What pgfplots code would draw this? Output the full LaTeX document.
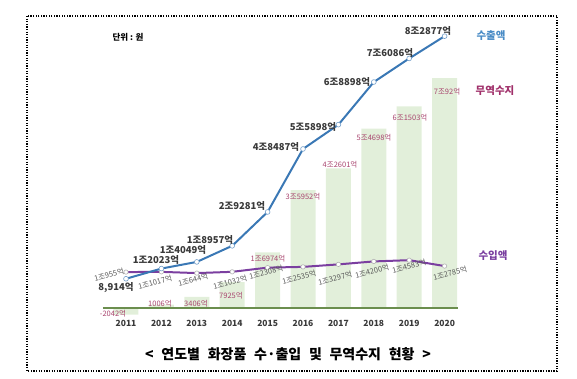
\documentclass[border=0pt]{standalone}
\usepackage{pgfplots}
\pgfplotsset{compat=1.18}
\usepackage{fontspec}
\setmainfont{Noto Sans CJK KR}
\definecolor{barg}{HTML}{E2EFDA}
\definecolor{baseg}{HTML}{6B8E4E}
\definecolor{expc}{HTML}{3A78B5}
\definecolor{impc}{HTML}{7B3FA0}
\definecolor{balc}{HTML}{A8446E}
\definecolor{explab}{HTML}{3A3A3A}
\definecolor{implab}{HTML}{5A5A5A}
\definecolor{explegend}{HTML}{4A8CC6}
\definecolor{ballegend}{HTML}{A0306A}
\definecolor{implegend}{HTML}{7A3FA0}
\newcommand{\ef}{\fontsize{9.5}{11}\selectfont\bfseries}
\newcommand{\imf}{\fontsize{7.5}{9}\selectfont}
\newcommand{\blf}{\fontsize{7.5}{9}\selectfont}
\newcommand{\ts}{\hspace{0.55em}}
\begin{document}
\begin{tikzpicture}
\begin{axis}[width=577pt,height=379pt,scale only axis,hide axis,clip=false,
  xmin=2007.441,xmax=2023.740,ymin=-21648,ymax=93909]
% trade balance (억 원)
\addplot[ybar,bar width=0.706,fill=barg,draw=none] coordinates {
 (2011,-2042) (2012,1006) (2013,3406) (2014,7925) (2015,16974)
 (2016,35952) (2017,42601) (2018,54698) (2019,61503) (2020,70092)};
\addplot[baseg,line width=2.5pt] coordinates {(2010.35,0) (2020.38,0)};
% imports
\addplot[impc,line width=2pt,mark=*,mark size=2.2pt,mark options={fill=white,draw=gray!60,line width=0.6pt}] coordinates {
 (2011,10955) (2012,11017) (2013,10644) (2014,11032) (2015,12308)
 (2016,12535) (2017,13297) (2018,14200) (2019,14583) (2020,12785)};
% exports
\addplot[expc,line width=2pt,mark=*,mark size=2.4pt,mark options={fill=white,draw=expc!70,line width=0.6pt}] coordinates {
 (2011,8914) (2012,12023) (2013,14049) (2014,18957) (2015,29281)
 (2016,48487) (2017,55898) (2018,68898) (2019,76086) (2020,82877)};
\end{axis}
\begin{scope}[x=1pt,y=-1pt,shift={(0pt,379pt)}]
\path (0,0) rectangle (577,379);
\draw[black,line width=1.3pt,dash pattern=on 1.3pt off 1.3pt] (27,16) rectangle (557,371);
\node[font=\fontsize{8.5}{10}\selectfont\bfseries] at (128,37) {단위 : 원};
% years
\foreach \yr [count=\i from 0] in {2011,...,2020}
  \node[font=\fontsize{8.5}{10}\selectfont\bfseries,text=explab] at ({126+35.4*\i},323) {\yr};
% export labels
\begin{scope}[text=explab,font=\ef]
\node at (116,288) {8,914억};
\node at (156,260) {1조2023억};
\node at (183,250) {1조4049억};
\node at (210,240) {1조8957억};
\node at (242,206) {2조9281억};
\node at (276,147) {4조8487억};
\node at (313,127) {5조5898억};
\node at (347,82) {6조8898억};
\node at (390,53) {7조6086억};
\node at (428,31) {8조2877억};
\end{scope}
% import labels
\begin{scope}[text=implab,font=\imf]
\node[rotate=15] at (109,275) {1조955억};
\node[rotate=15] at (155,282) {1조1017억};
\node[rotate=15] at (193,280) {1조644억};
\node[rotate=15] at (230,282) {1조1032억};
\node[rotate=15] at (266,272) {1조2308억};
\node[rotate=15] at (299,277) {1조2535억};
\node[rotate=15] at (335,278) {1조3297억};
\node[rotate=15] at (372,271) {1조4200억};
\node[rotate=15] at (409,266) {1조4583억};
\node[rotate=15] at (450,273) {1조2785억};
\end{scope}
% balance labels
\begin{scope}[text=balc,font=\blf]
\node at (113,314) {-2042억};
\node at (160,304) {1006억};
\node at (196,304) {3406억};
\node at (231,296) {7925억};
\node at (268,259) {1조6974억};
\node at (303,197) {3조5952억};
\node at (340,165) {4조2601억};
\node at (374,138) {5조4698억};
\node at (410,118) {6조1503억};
\node at (447,92) {7조92억};
\end{scope}
% series names
\node[text=explegend,font=\fontsize{10.5}{12}\selectfont\bfseries] at (491,36) {수출액};
\node[text=ballegend,font=\fontsize{10.5}{12}\selectfont\bfseries] at (495,91) {무역수지};
\node[text=implegend,font=\fontsize{10.5}{12}\selectfont\bfseries] at (493,256) {수입액};
% title
\node[font=\fontsize{14}{16}\selectfont\bfseries] at (288,354) {<\ts 연도별\ts 화장품\ts 수·출입\ts 및\ts 무역수지\ts 현황\ts >};
\end{scope}
\end{tikzpicture}
\end{document}
